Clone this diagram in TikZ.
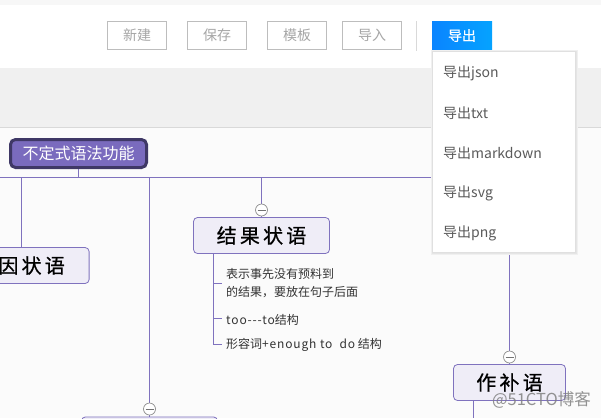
\documentclass[tikz,border=0pt]{standalone}
\usepackage{fontspec}
\setmainfont{Noto Sans CJK SC}
\newcommand{\widelat}[1]{{\addfontfeature{LetterSpace=7}#1}}
\newfontfamily\headfont[LetterSpace=16,FakeBold=0.7]{Noto Sans CJK SC}
\definecolor{linepurple}{HTML}{7F72BE}
\definecolor{rootfill}{HTML}{7A6BBE}
\definecolor{rootedge}{HTML}{3F3866}
\definecolor{subfill}{HTML}{EFEDF7}
\definecolor{btnedge}{HTML}{BDBDBD}
\definecolor{btntext}{HTML}{A6A6A6}
\definecolor{menutext}{HTML}{5A5A5A}
\definecolor{outleft}{HTML}{0A84FF}
\definecolor{outright}{HTML}{05A3FF}
\definecolor{bandgrey}{HTML}{F0F0F0}
\definecolor{mapgrey}{HTML}{FBFBFB}
\tikzset{
    toolbtn/.style={draw=btnedge,line width=0.9pt,minimum width=59pt,minimum height=28pt,inner sep=0pt,text=btntext,font=\fontsize{14}{16}\selectfont},
    subnode/.style={draw=linepurple,fill=subfill,rounded corners=4pt,line width=0.8pt,inner sep=0pt,font=\fontsize{20}{22}\headfont},
    menuitem/.style={anchor=west,inner sep=0pt,text=menutext,font=\fontsize{14}{16}\selectfont},
    notetext/.style={anchor=west,inner sep=0pt,align=left,text=black!80,font=\fontsize{12}{18}\selectfont},
    conn/.style={draw=linepurple,line width=0.8pt},
    foldmark/.style={circle,draw=black!45,fill=white,line width=0.7pt,minimum size=12pt,inner sep=0pt,path picture={\draw[black!55,line width=0.7pt] ([xshift=-4pt]path picture bounding box.center) -- ([xshift=4pt]path picture bounding box.center);}},
}
\begin{document}
\begin{tikzpicture}[x=1pt,y=-1pt]
        \useasboundingbox (0,0) rectangle (601,418);
        % page areas
        \fill[white] (0,0) rectangle (601,418);
        \fill[black!3] (0,0) rectangle (601,5);
        \fill[bandgrey] (0,68) rectangle (601,127);
        \fill[mapgrey] (0,128) rectangle (601,418);
        \draw[black!15,line width=0.8pt] (0,127.5) -- (601,127.5);

        % tool bar
        \node[toolbtn] (newbtn) at (137,35.5) {\raisebox{-0.7pt}{新建}};
        \node[toolbtn] (savebtn) at (217,35.5) {\raisebox{-0.7pt}{保存}};
        \node[toolbtn] (tplbtn) at (297,35.5) {\raisebox{-0.7pt}{模板}};
        \node[toolbtn] (inbtn) at (372,35.5) {\raisebox{-0.7pt}{导入}};
        \draw[black!15,line width=0.8pt] (416.5,21) -- (416.5,51);
        \node[left color=outleft,right color=outright,minimum width=60pt,minimum height=29pt,inner sep=0pt,text=white,font=\fontsize{14}{16}\selectfont\addfontfeature{FakeBold=0.4}] (outbtn) at (462,35.5) {导出};

        % map
        \coordinate (busl) at (0,177.5);
        \coordinate (busr) at (440,177.5);
        \draw[conn] (busl) -- (busr);
        \node[draw=rootedge,fill=rootfill,line width=3pt,rounded corners=5pt,minimum width=136pt,minimum height=28pt,inner sep=0pt,text=white,font=\fontsize{16}{18}\selectfont] (root) at (78.5,153.5) {不定式语法功能};
        \coordinate (rootbus) at (78.5,177.5);
        \draw[conn] (root) -- (rootbus);

        \node[subnode,minimum width=115pt,minimum height=36pt,anchor=east] (reason) at (89.5,265.5) {因状语};
        \node[subnode,minimum width=136pt,minimum height=36pt] (result) at (261.5,235.5) {结果状语};
        \node[subnode,minimum width=112pt,minimum height=36pt] (compl) at (509.5,382.5) {作补语};
        \node[subnode,minimum width=136pt,minimum height=36pt,anchor=north] (lower) at (149.5,416.5) {};

        \coordinate (reasonbus) at (21.5,177.5);
        \coordinate (lowerbus) at (149.5,177.5);
        \coordinate (resultbus) at (261.5,177.5);
        \coordinate (complbus) at (509.5,240);
        \draw[conn] (reasonbus) -- (reasonbus |- reason.north);
        \draw[conn] (lowerbus) -- (lower.north);
        \draw[conn] (resultbus) -- (result.north);
        \draw[conn] (complbus) -- (compl.north);

        \node[foldmark] (foldresult) at (261.5,210) {};
        \node[foldmark] (foldlower) at (149.5,409) {};
        \node[foldmark] (foldcompl) at (509.5,357) {};

        % notes
        \node[notetext] (note1) at (226,283.5) {表示事先没有预料到\\的结果，要放在句子后面};
        \node[notetext] (note2) at (226,319.5) {\widelat{too-{}-{}-to}结构};
        \node[notetext] (note3) at (226,345) {形容词\widelat{+enough to\ \ do} 结构};
        \coordinate (trunk) at (213.5,253.5);
        \coordinate (tick1) at (221.5,283.5);
        \coordinate (tick2) at (221.5,318);
        \coordinate (tick3) at (221.5,344);
        \draw[conn] (trunk) |- (tick3);
        \draw[conn] (trunk |- tick1) -- (tick1);
        \draw[conn] (trunk |- tick2) -- (tick2);
        \coordinate (compltrunk) at (473.5,400.5);
        \coordinate (compltrunkend) at (473.5,418);
        \draw[conn] (compltrunk) -- (compltrunkend);

        % export menu
        \fill[black!6] (431,50) rectangle (578,255);
        \fill[black!10] (432,51) rectangle (577,254);
        \node[draw=black!12,fill=white,minimum width=143pt,minimum height=201pt,inner sep=0pt] (menu) at (504,151.5) {};
        \node[menuitem] (itemjson) at (443,73) {导出json};
        \node[menuitem] (itemtxt) at (443,113) {导出txt};
        \node[menuitem] (itemmd) at (443,153) {导出markdown};
        \node[menuitem] (itemsvg) at (443,193) {导出svg};
        \node[menuitem] (itempng) at (443,233) {导出png};

        \node[anchor=east,inner sep=0pt,text=black!50,opacity=0.85,font=\fontsize{16.5}{18}\selectfont] (mark) at (591,400) {@51CTO博客};
\end{tikzpicture}
\end{document}
